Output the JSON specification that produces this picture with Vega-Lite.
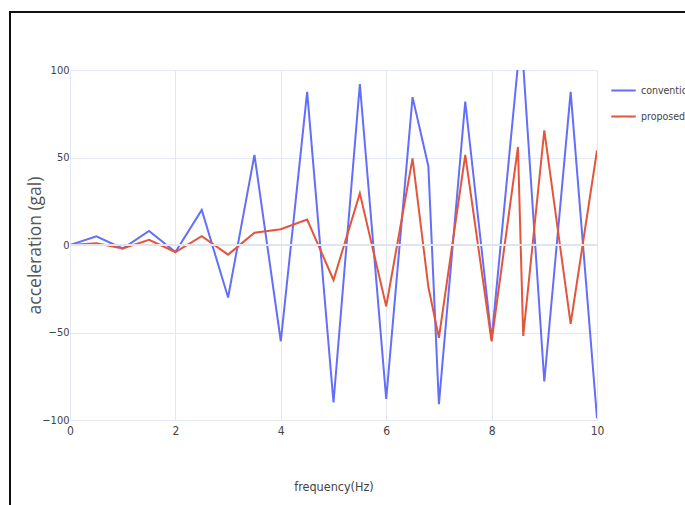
{
  "$schema": "https://vega.github.io/schema/vega-lite/v6.json",
  "autosize": "none",
  "padding": {"left": 70, "top": 70, "right": 88, "bottom": 85},
  "width": 527,
  "height": 350,
  "background": "white",
  "config": {
    "view": {"stroke": null},
    "font": "DejaVu Sans Condensed, Open Sans",
    "axis": {"labelFont": "DejaVu Sans Condensed, Open Sans", "titleFont": "DejaVu Sans Condensed, Open Sans", "labelColor": "#444", "titleColor": "#444", "domain": false, "ticks": false, "grid": true, "gridColor": "#e3e8f1", "gridWidth": 1, "titleFontWeight": "normal", "labelFlush": false},
    "legend": {"labelFont": "DejaVu Sans Condensed, Open Sans"}
  },
  "data": {
    "values": [
      {"f": 0, "a": 0, "s": "conventional"},
      {"f": 0.5, "a": 5, "s": "conventional"},
      {"f": 1, "a": -2, "s": "conventional"},
      {"f": 1.5, "a": 8, "s": "conventional"},
      {"f": 2, "a": -4, "s": "conventional"},
      {"f": 2.5, "a": 20, "s": "conventional"},
      {"f": 3, "a": -30, "s": "conventional"},
      {"f": 3.5, "a": 51.5, "s": "conventional"},
      {"f": 4, "a": -55, "s": "conventional"},
      {"f": 4.5, "a": 87.5, "s": "conventional"},
      {"f": 5, "a": -90, "s": "conventional"},
      {"f": 5.5, "a": 92, "s": "conventional"},
      {"f": 6, "a": -88, "s": "conventional"},
      {"f": 6.5, "a": 84.5, "s": "conventional"},
      {"f": 6.8, "a": 45, "s": "conventional"},
      {"f": 7, "a": -91, "s": "conventional"},
      {"f": 7.5, "a": 82, "s": "conventional"},
      {"f": 8, "a": -54, "s": "conventional"},
      {"f": 8.5, "a": 103, "s": "conventional"},
      {"f": 8.6, "a": 103, "s": "conventional"},
      {"f": 9, "a": -78, "s": "conventional"},
      {"f": 9.5, "a": 87.5, "s": "conventional"},
      {"f": 10, "a": -99, "s": "conventional"},
      {"f": 0, "a": 0, "s": "proposed"},
      {"f": 0.5, "a": 1, "s": "proposed"},
      {"f": 1, "a": -2, "s": "proposed"},
      {"f": 1.5, "a": 3, "s": "proposed"},
      {"f": 2, "a": -4, "s": "proposed"},
      {"f": 2.5, "a": 5, "s": "proposed"},
      {"f": 3, "a": -5.5, "s": "proposed"},
      {"f": 3.5, "a": 7, "s": "proposed"},
      {"f": 4, "a": 9, "s": "proposed"},
      {"f": 4.5, "a": 14.5, "s": "proposed"},
      {"f": 5, "a": -20, "s": "proposed"},
      {"f": 5.5, "a": 29.5, "s": "proposed"},
      {"f": 6, "a": -35, "s": "proposed"},
      {"f": 6.5, "a": 49.5, "s": "proposed"},
      {"f": 6.8, "a": -24, "s": "proposed"},
      {"f": 7, "a": -53, "s": "proposed"},
      {"f": 7.5, "a": 51.5, "s": "proposed"},
      {"f": 8, "a": -55, "s": "proposed"},
      {"f": 8.5, "a": 56, "s": "proposed"},
      {"f": 8.6, "a": -52, "s": "proposed"},
      {"f": 9, "a": 65.5, "s": "proposed"},
      {"f": 9.5, "a": -45, "s": "proposed"},
      {"f": 10, "a": 54, "s": "proposed"}
    ]
  },
  "layer": [
    {
      "mark": {"type": "line", "strokeWidth": 2, "clip": true},
      "encoding": {
        "x": {
          "field": "f", "type": "quantitative",
          "scale": {"domain": [0, 10], "nice": false, "zero": false},
          "axis": {"values": [0, 2, 4, 6, 8, 10], "grid": true, "title": "frequency(Hz)", "labelFontSize": 12, "labelPadding": 5, "titleFontSize": 12.5, "titlePadding": 44}
        },
        "y": {
          "field": "a", "type": "quantitative",
          "scale": {"domain": [-100, 100], "nice": false},
          "axis": {"values": [-100, -50, 0, 50, 100], "grid": true, "title": "acceleration (gal)", "titleFont": "Open Sans", "titleColor": "#555", "labelFontSize": 11, "labelPadding": 1, "titleFontSize": 17.5, "titleX": -26, "titleY": 175, "titleAngle": -90, "titleBaseline": "bottom", "titleAlign": "center"}
        },
        "color": {
          "field": "s", "type": "nominal",
          "scale": {"domain": ["conventional", "proposed"], "range": ["#636efa", "#e3553c"]},
          "legend": {"title": null, "symbolType": "stroke", "symbolSize": 600, "symbolStrokeWidth": 2, "labelFontSize": 10.5, "labelColor": "#444", "orient": "none", "legendX": 540, "legendY": 7, "rowPadding": 7, "labelOffset": 4}
        }
      }
    },
    {
      "mark": {"type": "rule", "color": "#dfe5ee", "strokeWidth": 2},
      "encoding": {
        "y": {"datum": 0, "type": "quantitative"}
      }
    },
    {
      "mark": {"type": "rect", "fill": null, "stroke": "#111", "strokeWidth": 1.5, "clip": false},
      "encoding": {
        "x": {"datum": -1.14, "type": "quantitative"},
        "x2": {"datum": 14},
        "y": {"datum": 133, "type": "quantitative"},
        "y2": {"datum": -170}
      }
    }
  ]
}
